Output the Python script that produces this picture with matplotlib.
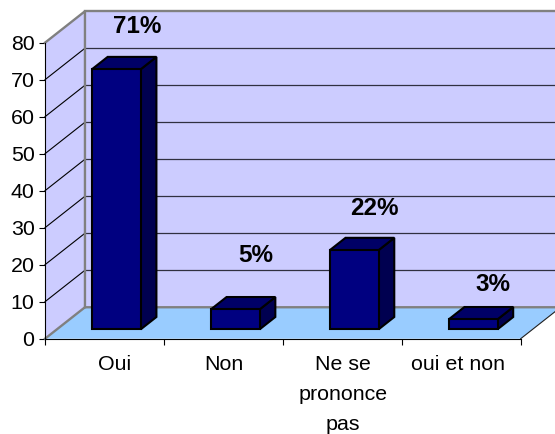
import matplotlib
matplotlib.use('Agg')
import matplotlib.pyplot as plt
from matplotlib.patches import Polygon

categories = ['Oui', 'Non', 'Ne se\nprononce\npas', 'oui et non']
values = [70.3, 5.4, 21.4, 2.7]
labels = ['71%', '5%', '22%', '3%']
yticks = [0, 10, 20, 30, 40, 50, 60, 70, 80]

# depth of the fake 3d box, in data units
depthX = 0.336
depthY = 8.5
# where the bar sits inside the box (fraction of depth)
barFront = 0.30
barBack = 0.69
barWidth = 0.41

# hand placed things, offset from category centre / value
labelX = [0.588, 1.504, 2.504, 3.47]
labelPos = [(0.775, 84.3), (1.77, 22.6), (2.77, 35.1), (3.77, 14.7)]

plt.rcParams['font.family'] = ['Liberation Sans', 'DejaVu Sans']

fig = plt.figure(figsize=(5.55, 4.34), dpi=100)
ax = fig.add_axes([45 / 555, 1 - 338.7 / 434, 475.7 / 555, 296 / 434])
ax.set_xlim(0, 4)
ax.set_ylim(0, 80)


def addPoly(points, face, edge='none', lw=0, z=1):
    poly = Polygon(points, closed=True, facecolor=face, edgecolor=edge, linewidth=lw,
                   zorder=z, clip_on=False, joinstyle='miter')
    ax.add_patch(poly)


# walls and floor
addPoly([(depthX, depthY), (4 + depthX, depthY), (4 + depthX, 80 + depthY), (depthX, 80 + depthY)], '#CCCCFF')
addPoly([(0, 0), (depthX, depthY), (depthX, 80 + depthY), (0, 80)], '#CCCCFF')
addPoly([(0, 0), (4, 0), (4 + depthX, depthY), (depthX, depthY)], '#99CCFF')

# grid lines, side wall then back wall
for t in yticks[1:-1]:
    ax.plot([0, depthX], [t, t + depthY], color='black', lw=0.8, clip_on=False, zorder=2)
    ax.plot([depthX, 4 + depthX], [t + depthY, t + depthY], color='#303040', lw=0.9, clip_on=False, zorder=2)

# box outline
grey = '#808080'
ax.plot([0, depthX, depthX], [80, 80 + depthY, depthY], color=grey, lw=1.7, clip_on=False, zorder=3)
ax.plot([depthX, 4 + depthX], [80 + depthY, 80 + depthY], color=grey, lw=1.7, clip_on=False, zorder=3)
ax.plot([0, depthX, 4 + depthX], [0, depthY, depthY], color=grey, lw=1.7, clip_on=False, zorder=3)
ax.plot([4, 4 + depthX], [0, depthY], color='#202020', lw=0.8, clip_on=False, zorder=3)

# bars
for i, v in enumerate(values):
    left = i + 0.5 - barWidth / 2
    right = i + 0.5 + barWidth / 2
    fx = barFront * depthX
    fy = barFront * depthY
    bx = barBack * depthX
    by = barBack * depthY
    addPoly([(left + fx, fy), (right + fx, fy), (right + fx, v + fy), (left + fx, v + fy)],
            '#000080', 'black', 1.5, 5)
    addPoly([(right + fx, fy), (right + bx, by), (right + bx, v + by), (right + fx, v + fy)],
            '#000050', 'black', 1.5, 4)
    addPoly([(left + fx, v + fy), (right + fx, v + fy), (right + bx, v + by), (left + bx, v + by)],
            '#000066', 'black', 1.5, 4)

for pos, text in zip(labelPos, labels):
    ax.text(pos[0], pos[1], text, fontsize=17.5, fontweight='bold', color='black',
            ha='center', va='center', zorder=6)

ax.patch.set_visible(False)
ax.spines['top'].set_visible(False)
ax.spines['right'].set_visible(False)
ax.spines['left'].set_zorder(7)
ax.spines['bottom'].set_zorder(7)
ax.set_yticks(yticks)
ax.tick_params(axis='y', labelsize=15.4, length=4.5, width=0.8, pad=3, colors='black')
ax.set_xticks([0, 1, 2, 3, 4])
ax.set_xticklabels([])
ax.set_xticks(labelX, minor=True)
ax.set_xticklabels(categories, minor=True, linespacing=1.72)
ax.tick_params(axis='x', which='major', length=4.5, width=0.8)
ax.tick_params(axis='x', which='minor', length=0, labelsize=15.4, pad=12, colors='black')

fig.savefig('out.png', dpi=100)
